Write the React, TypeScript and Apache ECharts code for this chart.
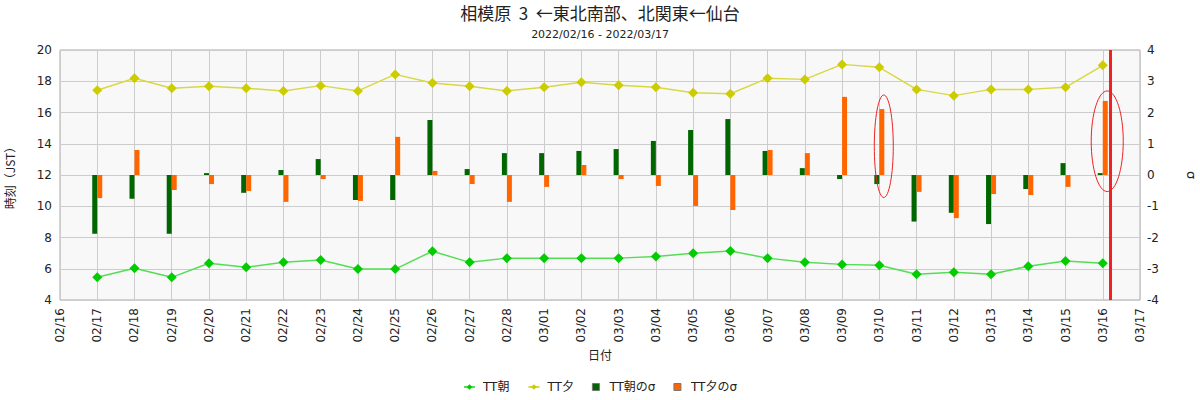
import React, { useEffect, useRef } from "react";
import * as echarts from "echarts";

const tickLabels = [
  "02/16", "02/17", "02/18", "02/19", "02/20", "02/21", "02/22", "02/23", "02/24", "02/25",
  "02/26", "02/27", "02/28", "03/01", "03/02", "03/03", "03/04", "03/05", "03/06", "03/07",
  "03/08", "03/09", "03/10", "03/11", "03/12", "03/13", "03/14", "03/15", "03/16", "03/17",
];

const days = [
  "02/17", "02/18", "02/19", "02/20", "02/21", "02/22", "02/23", "02/24", "02/25", "02/26",
  "02/27", "02/28", "03/01", "03/02", "03/03", "03/04", "03/05", "03/06", "03/07", "03/08",
  "03/09", "03/10", "03/11", "03/12", "03/13", "03/14", "03/15", "03/16",
];

// TT朝 (hours, left axis)
const ttAsa = [
  5.45, 6.03, 5.45, 6.35, 6.09, 6.41, 6.56, 5.98, 5.98, 7.12,
  6.41, 6.68, 6.68, 6.68, 6.68, 6.79, 6.99, 7.14, 6.68, 6.41,
  6.28, 6.22, 5.65, 5.77, 5.65, 6.16, 6.5, 6.35,
];

// TT夕 (hours, left axis)
const ttYu = [
  17.42, 18.19, 17.55, 17.68, 17.55, 17.38, 17.72, 17.38, 18.44, 17.89,
  17.68, 17.38, 17.61, 17.93, 17.74, 17.61, 17.27, 17.2, 18.19, 18.12,
  19.08, 18.89, 17.48, 17.08, 17.48, 17.48, 17.61, 19.02,
];

// TT朝のσ (right axis)
const sigmaAsa = [
  -1.88, -0.76, -1.88, 0.06, -0.57, 0.16, 0.51, -0.8, -0.8, 1.76,
  0.19, 0.7, 0.7, 0.77, 0.83, 1.09, 1.44, 1.79, 0.77, 0.22,
  -0.13, -0.29, -1.49, -1.21, -1.57, -0.45, 0.38, 0.06,
];

// TT夕のσ (right axis)
const sigmaYu = [
  -0.74, 0.8, -0.48, -0.29, -0.51, -0.86, -0.13, -0.83, 1.22, 0.13,
  -0.29, -0.86, -0.38, 0.32, -0.13, -0.35, -0.99, -1.12, 0.8, 0.7,
  2.5, 2.11, -0.54, -1.38, -0.61, -0.64, -0.38, 2.37,
];

// current-time marker (position on the day axis)
const nowMarker = 28.19;

// highlight ellipses: [day position, σ centre, half-width (days), half-height (σ)]
const highlights = [
  [22.12, 0.92, 0.255, 1.64],
  [28.12, 1.08, 0.43, 1.61],
];

const FONT = "'DejaVu Sans', 'Noto Sans CJK JP', sans-serif";
const CJK = "'Noto Sans CJK JP', 'DejaVu Sans', sans-serif";

export default function App() {
  const ref = useRef<HTMLDivElement>(null);

  useEffect(() => {
    if (!ref.current) return;
    const chart = echarts.init(ref.current, null, { renderer: "svg" });
    const xi = (d: string) => tickLabels.indexOf(d);
    const square = "path://M0,0H7V7H0Z";

    const option: any = {
      animation: false,
      backgroundColor: "#ffffff",
      textStyle: { fontFamily: FONT },
      title: {
        text: "相模原  3  ←東北南部、北関東←仙台",
        subtext: "2022/02/16 - 2022/03/17",
        left: "center",
        top: -1,
        itemGap: 8,
        textStyle: { fontFamily: CJK, fontSize: 17, fontWeight: "normal", color: "#222" },
        subtextStyle: { fontFamily: FONT, fontSize: 11, color: "#222" },
      },
      legend: {
        left: "center",
        top: 376,
        itemGap: 18,
        itemWidth: 11,
        itemHeight: 7,
        textStyle: { fontFamily: FONT, fontSize: 12, color: "#222", padding: [0, 0, 0, 3] },
        data: [
          { name: "TT朝" },
          { name: "TT夕" },
          { name: "TT朝のσ", icon: square, itemStyle: { borderColor: "#777", borderWidth: 1 } },
          { name: "TT夕のσ", icon: square, itemStyle: { borderColor: "#777", borderWidth: 1 } },
        ],
      },
      grid: {
        left: 60,
        right: 60,
        top: 50,
        bottom: 100,
        outerBoundsMode: "none",
        containLabel: false,
        show: true,
        backgroundColor: "#f8f8f8",
        borderColor: "#aaaaaa",
        borderWidth: 1,
      },
      xAxis: {
        type: "value",
        min: 0,
        max: tickLabels.length - 1,
        interval: 1,
        name: "日付",
        nameLocation: "middle",
        nameGap: 50,
        nameTextStyle: { fontFamily: FONT, fontSize: 12, color: "#222" },
        axisLine: { show: false },
        axisTick: { show: false },
        axisLabel: {
          rotate: 90,
          margin: 8,
          fontFamily: FONT,
          fontSize: 12,
          color: "#222",
          formatter: (v: number) => tickLabels[Math.round(v)] ?? "",
        },
        splitLine: { show: true, lineStyle: { color: "#cccccc", width: 1 } },
      },
      yAxis: [
        {
          type: "value",
          min: 4,
          max: 20,
          interval: 2,
          name: "時刻（JST）",
          nameLocation: "middle",
          nameRotate: 90,
          nameGap: 45,
          nameTextStyle: { fontFamily: CJK, fontSize: 12, color: "#222" },
          axisLine: { show: false },
          axisTick: { show: false },
          axisLabel: { margin: 8, fontFamily: FONT, fontSize: 12, color: "#222" },
          splitLine: { show: true, lineStyle: { color: "#cccccc", width: 1 } },
        },
        {
          type: "value",
          min: -4,
          max: 4,
          interval: 1,
          position: "right",
          name: "σ",
          nameLocation: "middle",
          nameRotate: -90,
          nameGap: 45,
          nameTextStyle: { fontFamily: FONT, fontSize: 13, color: "#222" },
          axisLine: { show: false },
          axisTick: { show: false },
          axisLabel: { margin: 7, fontFamily: FONT, fontSize: 12, color: "#222" },
          splitLine: { show: false },
        },
      ],
      series: [
        {
          name: "TT朝のσ",
          type: "bar",
          yAxisIndex: 1,
          barWidth: 5,
          barGap: "0%",
          itemStyle: { color: "#006600" },
          data: days.map((d, i) => [xi(d), sigmaAsa[i]]),
        },
        {
          name: "TT夕のσ",
          type: "bar",
          yAxisIndex: 1,
          barWidth: 5,
          barGap: "0%",
          itemStyle: { color: "#ff6600" },
          data: days.map((d, i) => [xi(d), sigmaYu[i]]),
        },
        {
          name: "TT朝",
          type: "line",
          yAxisIndex: 0,
          symbol: "diamond",
          symbolSize: 10,
          itemStyle: { color: "#00cc00" },
          lineStyle: { color: "#55dd55", width: 1.5 },
          data: days.map((d, i) => [xi(d), ttAsa[i]]),
          z: 3,
        },
        {
          name: "TT夕",
          type: "line",
          yAxisIndex: 0,
          symbol: "diamond",
          symbolSize: 10,
          itemStyle: { color: "#cccc00" },
          lineStyle: { color: "#d8d844", width: 1.5 },
          data: days.map((d, i) => [xi(d), ttYu[i]]),
          z: 3,
        },
        {
          name: "highlight",
          type: "custom",
          yAxisIndex: 1,
          silent: true,
          z: 4,
          encode: { x: 0, y: 1 },
          data: highlights,
          renderItem: (params: any, api: any) => {
            const c = api.coord([api.value(0), api.value(1)]);
            const s = api.size([api.value(2), api.value(3)]);
            return {
              type: "ellipse",
              shape: { cx: c[0], cy: c[1], rx: s[0], ry: s[1] },
              style: { fill: "none", stroke: "#ee2222", lineWidth: 1 },
            };
          },
          markLine: {
            silent: true,
            symbol: "none",
            label: { show: false },
            lineStyle: { color: "#ee2222", width: 3, type: "solid" },
            data: [{ xAxis: nowMarker }],
          },
        },
      ],
    };

    chart.setOption(option);
    return () => chart.dispose();
  }, []);

  return (
    <div
      ref={ref}
      style={{ position: "fixed", left: 0, top: 0, width: 1200, height: 400 }}
    />
  );
}
